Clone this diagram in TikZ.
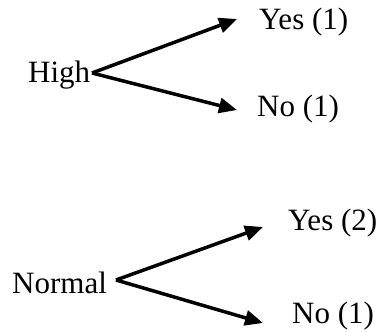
\documentclass[tikz,border=0pt]{standalone}
\usepackage{fontspec}
\setmainfont{Liberation Serif}
\usetikzlibrary{positioning,arrows.meta}
\tikzstyle{dtlabelstyle}=[inner sep=0pt,anchor=base west,font=\fontsize{31}{37}\selectfont]
\tikzstyle{dtbranchstyle}=[line width=3.5pt,-{Triangle[length=18pt,width=15pt]}]
\newcommand{\dtleaf}[4]{ \draw (#3,#4) node [style=dtlabelstyle] (#1) {#2}; }
\newcommand{\dtbranch}[2]{ \draw [style=dtbranchstyle] (#1) -- (#2); }

\begin{document}
\begin{tikzpicture}[y=-1pt,x=1pt]
\useasboundingbox (0,0) rectangle (379,331);
\dtleaf{high}{High}{28}{83} %
\dtleaf{highyes}{Yes (1)}{259}{30} %
\dtleaf{highno}{No (1)}{257}{117} %
\dtleaf{normal}{Normal}{12}{293} %
\dtleaf{normalyes}{Yes (2)}{288}{230} %
\dtleaf{normalno}{No (1)}{292}{323} %
\coordinate (highapex) at (92,73);
\coordinate (highyestip) at (237,19);
\coordinate (highnotip) at (237,110);
\coordinate (normalapex) at (116,280);
\coordinate (normalyestip) at (263,227);
\coordinate (normalnotip) at (263,323);
\dtbranch{highapex}{highyestip} %
\dtbranch{highapex}{highnotip} %
\dtbranch{normalapex}{normalyestip} %
\dtbranch{normalapex}{normalnotip} %
\end{tikzpicture}
\end{document}
